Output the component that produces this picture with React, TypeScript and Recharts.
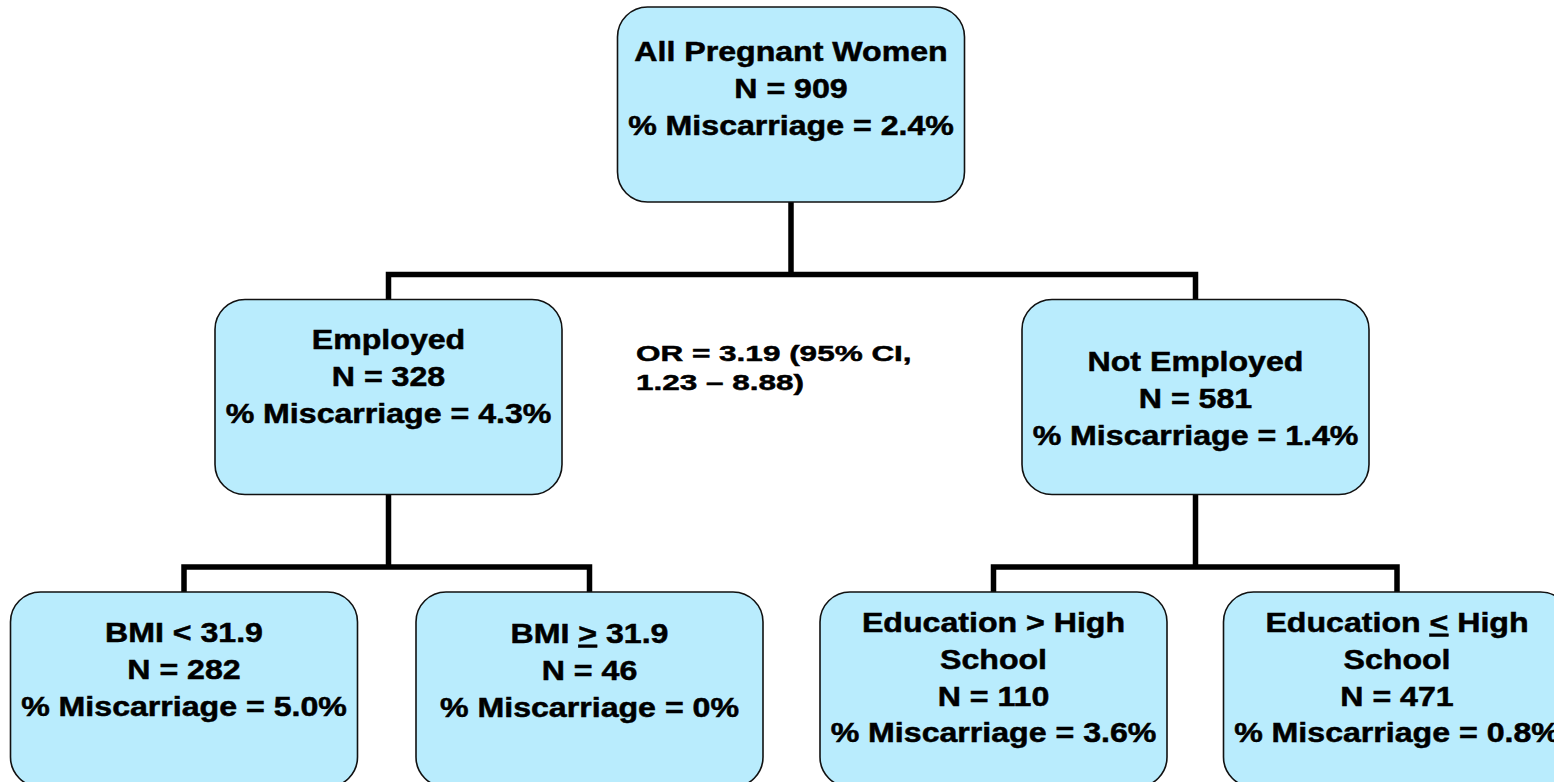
import { ScatterChart, Scatter, XAxis, YAxis } from 'recharts'

// tree nodes
const nodeTitles = [
  ['All Pregnant Women'],
  ['Employed'],
  ['Not Employed'],
  ['BMI < 31.9'],
  ['BMI ≥ 31.9'],
  ['Education > High', 'School'],
  ['Education ≤ High', 'School'],
]
const nodeN   = [909, 328, 581, 282, 46, 110, 471]
const nodePct = ['2.4%', '4.3%', '1.4%', '5.0%', '0%', '3.6%', '0.8%']
const nodeX   = [791, 388.5, 1195.5, 184, 589.5, 993.5, 1397]
const nodeY   = [104.5, 397, 397, 689.5, 689.5, 689.5, 689.5]

// parent -> children
const edgeFrom = [0, 0, 1, 1, 2, 2]
const edgeTo   = [1, 2, 3, 4, 5, 6]

const oddsLines = ['OR = 3.19 (95% CI,', '1.23 – 8.88)']
const oddsX = 636
const oddsY = 361

// layout
const W = 1554
const H = 782
const BOX_W = 347
const BOX_H = 195
const FIRST_BASE = [54, 49.5, 71.5, 50, 51, 40, 40]
const LINE_H = 36.8
const FONT = '"Liberation Sans", Arial, sans-serif'

const nodes = nodeTitles.map((t, i) => ({
  x: nodeX[i],
  y: nodeY[i],
  idx: i,
  lines: [...t, `N = ${nodeN[i]}`, `% Miscarriage = ${nodePct[i]}`],
}))

// connector polylines: stem below each parent, bar over its children
const parents = Array.from(new Set(edgeFrom))
const connectors: { x: number; y: number }[][] = []
parents.forEach((p) => {
  const kids = edgeTo.filter((_, i) => edgeFrom[i] === p)
  const kidTop = nodeY[kids[0]] - BOX_H / 2
  const midY = kidTop - 25
  connectors.push([
    { x: nodeX[p], y: nodeY[p] + BOX_H / 2 },
    { x: nodeX[p], y: midY },
  ])
  const first = kids[0]
  const last = kids[kids.length - 1]
  connectors.push([
    { x: nodeX[first], y: nodeY[first] - BOX_H / 2 },
    { x: nodeX[first], y: midY },
    { x: nodeX[last], y: midY },
    { x: nodeX[last], y: nodeY[last] - BOX_H / 2 },
  ])
})

function renderText(s: string) {
  return s.split(/([≥≤])/).map((part, i) => {
    if (part === '≥' || part === '≤') {
      return (
        <tspan key={i} style={{ textDecoration: 'underline' }}>
          {part === '≥' ? '>' : '<'}
        </tspan>
      )
    }
    return <tspan key={i}>{part}</tspan>
  })
}

function NodeBox(props: any) {
  const { cx, cy, payload } = props
  const top = cy - BOX_H / 2
  const base = top + FIRST_BASE[payload.idx]
  return (
    <g>
      <rect
        x={cx - BOX_W / 2}
        y={top}
        width={BOX_W}
        height={BOX_H}
        rx={30}
        ry={30}
        fill="#b9ecfd"
        stroke="#111"
        strokeWidth={1.6}
      />
      {payload.lines.map((l: string, i: number) => (
        <text
          key={i}
          x={0}
          y={0}
          transform={`translate(${cx},${base + i * LINE_H}) scale(1.19,1)`}
          textAnchor="middle"
          fontFamily={FONT}
          fontWeight="bold"
          fontSize={27}
          fill="#000"
          stroke="#000"
          strokeWidth={0.5}
        >
          {renderText(l)}
        </text>
      ))}
    </g>
  )
}

function OddsText(props: any) {
  const { cx, cy } = props
  return (
    <g>
      {oddsLines.map((l, i) => (
        <text
          key={i}
          x={0}
          y={0}
          transform={`translate(${cx},${cy + i * 28.5}) scale(1.4,1)`}
          textAnchor="start"
          fontFamily={FONT}
          fontWeight="bold"
          fontSize={22.5}
          fill="#000"
          stroke="#000"
          strokeWidth={0.5}
        >
          {l}
        </text>
      ))}
    </g>
  )
}

export default function App() {
  return (
    <div style={{ position: 'absolute', left: 0, top: 0, width: W, height: H, background: '#fff', overflow: 'hidden' }}>
      <ScatterChart width={W} height={H} margin={{ top: 0, right: 0, bottom: 0, left: 0 }}>
        <XAxis type="number" dataKey="x" domain={[0, W]} hide />
        <YAxis type="number" dataKey="y" domain={[0, H]} reversed hide />
        {connectors.map((pts, i) => (
          <Scatter
            key={`c${i}`}
            data={pts}
            fill="#000"
            line={{ stroke: '#000', strokeWidth: 5.5, strokeLinejoin: 'miter' }}
            shape={() => <g />}
            isAnimationActive={false}
          />
        ))}
        <Scatter data={nodes} shape={NodeBox} isAnimationActive={false} />
        <Scatter data={[{ x: oddsX, y: oddsY }]} shape={OddsText} isAnimationActive={false} />
      </ScatterChart>
    </div>
  )
}
